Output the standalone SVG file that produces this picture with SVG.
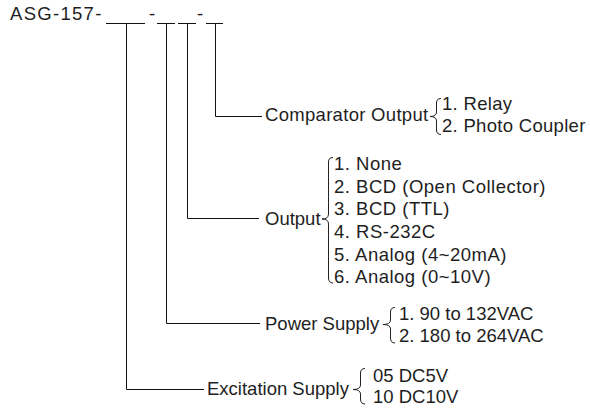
<svg xmlns="http://www.w3.org/2000/svg" width="590" height="411" viewBox="0 0 590 411">
<style>
text{font-family:"Liberation Sans",Arial,Helvetica,sans-serif;font-size:18.5px;fill:#1e1e1e}
.wide{letter-spacing:0.3px}
.wider{letter-spacing:0.5px}
.ln{stroke:#111;stroke-width:1;fill:none}
.br{stroke:#222;stroke-width:1;fill:none}
</style>
<rect width="590" height="411" fill="#fff"/>
<g id="model">
<text x="10" y="19.5" style="letter-spacing:1.3px">ASG-157-</text>
<text x="149" y="19.5">-</text>
<text x="197" y="19.5">-</text>
<path class="ln" d="M106 23.5H145M157 23.5H175M178 23.5H196M206 23.5H223"/>
</g>
<g id="connectors">
<path class="ln" d="M215.5 23.5V116.5H262"/>
<path class="ln" d="M187.5 23.5V218.5H259"/>
<path class="ln" d="M166.5 23.5V323.5H260"/>
<path class="ln" d="M126.5 23.5V389.5H204"/>
</g>
<g id="comparator-output">
<text class="wide" x="265" y="121">Comparator Output</text>
<path class="br" d="M441 98.5Q436.5 98.5 436.5 103V112Q436.5 116.5 430 116.5Q436.5 116.5 436.5 121V130Q436.5 134.5 441 134.5"/>
<text class="wide" x="442" y="110">1. Relay</text>
<text class="wide" x="442" y="132">2. Photo Coupler</text>
</g>
<g id="output">
<text x="265" y="225">Output</text>
<path class="br" d="M333 157.5Q328.5 157.5 328.5 162V214Q328.5 219 322 219Q328.5 219 328.5 224V278Q328.5 283 333 283"/>
<text class="wider" x="334" y="170">1. None</text>
<text class="wider" x="334" y="193">2. BCD (Open Collector)</text>
<text class="wider" x="334" y="215">3. BCD (TTL)</text>
<text class="wider" x="334" y="238">4. RS-232C</text>
<text class="wider" x="334" y="261">5. Analog (4~20mA)</text>
<text class="wider" x="334" y="283">6. Analog (0~10V)</text>
</g>
<g id="power-supply">
<text x="265" y="330">Power Supply</text>
<path class="br" d="M395 307.5Q390.5 307.5 390.5 312V320Q390.5 324.5 383 324.5Q390.5 324.5 390.5 329V338Q390.5 343 395 343"/>
<text x="399" y="320">1. 90 to 132VAC</text>
<text x="399" y="342">2. 180 to 264VAC</text>
</g>
<g id="excitation-supply">
<text x="207" y="395">Excitation Supply</text>
<path class="br" d="M365 368.5Q360.5 368.5 360.5 373V385Q360.5 389.5 353 389.5Q360.5 389.5 360.5 394V399Q360.5 404 365 404"/>
<text x="373" y="382">05 DC5V</text>
<text x="373" y="403">10 DC10V</text>
</g>
</svg>
